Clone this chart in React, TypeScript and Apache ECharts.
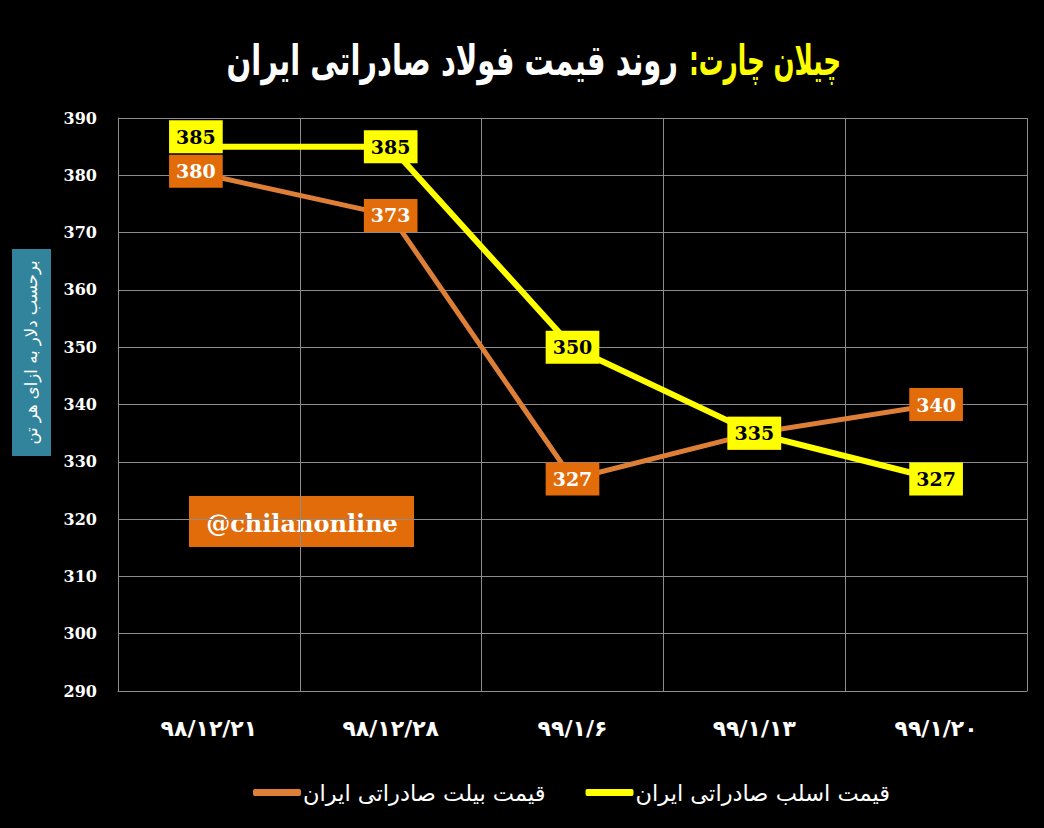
import React, { useEffect, useRef } from "react";
import * as echarts from "echarts";

const categories = ["۹۸/۱۲/۲۱", "۹۸/۱۲/۲۸", "۹۹/۱/۶", "۹۹/۱/۱۳", "۹۹/۱/۲۰"];
const billetValues = [380, 373, 327, 335, 340];
const slabValues = [385, 385, 350, 335, 327];
const billetName = "قیمت بیلت صادراتی ایران";
const slabName = "قیمت اسلب صادراتی ایران";
const titleMain = "روند قیمت فولاد صادراتی ایران";
const titleBrand = ":چیلان چارت";
const yAxisTitle = "برحسب دلار به ازای هر تن";
const watermark = "@chilanonline";
const yMin = 290;
const yMax = 390;
const yStep = 10;

const SERIF = "DejaVu Serif";
const PERSIAN = "DejaVu Sans";

export default function App() {
  const ref = useRef<HTMLDivElement>(null);
  useEffect(() => {
    if (!ref.current) return;
    const chart = echarts.init(ref.current, null, { renderer: "svg" });

    const mkData = (vals: number[], firstOffset: number[]) =>
      vals.map((v, i) =>
        i === 0 ? { value: v, label: { offset: firstOffset } } : { value: v }
      );

    const labelBase = {
      show: true,
      position: "inside",
      fontFamily: SERIF,
      fontWeight: "bold",
      fontSize: 19,
      lineHeight: 22,
      padding: [6, 7, 5, 7],
    };

    chart.setOption({
      animation: false,
      backgroundColor: "#000000",
      grid: { left: 118, right: 17, top: 118, bottom: 137, containLabel: false },
      legend: {
        left: 248,
        top: 776,
        itemWidth: 48,
        itemHeight: 7,
        itemGap: 40,
        icon: "roundRect",
        textStyle: { color: "#ffffff", fontFamily: PERSIAN, fontSize: 22.5, padding: [0, 0, 0, -3] },
        data: [billetName, slabName],
      },
      xAxis: {
        type: "category",
        data: categories,
        boundaryGap: true,
        axisLine: { show: true, lineStyle: { color: "#8c8c8c", width: 1 } },
        axisTick: { show: false },
        axisLabel: {
          color: "#ffffff",
          fontFamily: PERSIAN,
          fontWeight: "bold",
          fontSize: 22,
          margin: 26,
        },
        splitLine: { show: true, lineStyle: { color: "#8c8c8c", width: 1 } },
      },
      yAxis: {
        type: "value",
        min: yMin,
        max: yMax,
        interval: yStep,
        axisLine: { show: true, lineStyle: { color: "#8c8c8c", width: 1 } },
        axisTick: { show: false },
        axisLabel: {
          color: "#ffffff",
          fontFamily: SERIF,
          fontWeight: "bold",
          fontSize: 16,
          margin: 21,
        },
        splitLine: { show: true, lineStyle: { color: "#8c8c8c", width: 1 } },
      },
      series: [
        {
          name: billetName,
          type: "line",
          data: mkData(billetValues, [-13, -4]),
          symbol: "circle",
          symbolSize: 2,
          color: "#DE7F37",
          lineStyle: { color: "#DE7F37", width: 5 },
          itemStyle: { color: "#DE7F37" },
          label: { ...labelBase, color: "#ffffff", backgroundColor: "#E36C0A" },
          z: 2,
        },
        {
          name: slabName,
          type: "line",
          data: mkData(slabValues, [-13, -10]),
          symbol: "circle",
          symbolSize: 2,
          color: "#FFFF00",
          lineStyle: { color: "#FFFF00", width: 6 },
          itemStyle: { color: "#FFFF00" },
          label: { ...labelBase, color: "#000000", backgroundColor: "#FFFF00" },
          z: 3,
        },
      ],
      graphic: [
        {
          type: "text",
          x: 678,
          y: 60,
          scaleY: 1.45,
          style: {
            text: titleMain,
            fill: "#ffffff",
            font: `bold 29px "${PERSIAN}"`,
            align: "right",
            verticalAlign: "middle",
          },
        },
        {
          type: "text",
          x: 689,
          y: 60,
          scaleY: 1.45,
          scaleX: 0.85,
          style: {
            text: titleBrand,
            fill: "#FFFF00",
            font: `bold 29px "${PERSIAN}"`,
            align: "left",
            verticalAlign: "middle",
          },
        },
        {
          type: "rect",
          left: 12,
          top: 249,
          shape: { width: 39, height: 207 },
          style: { fill: "#31849B" },
        },
        {
          type: "text",
          x: 31.5,
          y: 352.5,
          rotation: Math.PI / 2,
          style: {
            text: yAxisTitle,
            fill: "#ffffff",
            font: `16.5px "${PERSIAN}"`,
            align: "center",
            verticalAlign: "middle",
          },
        },
        {
          type: "rect",
          left: 189,
          top: 496,
          shape: { width: 225, height: 51 },
          style: { fill: "#E36C0A" },
        },
        {
          type: "text",
          x: 302,
          y: 523,
          style: {
            text: watermark,
            fill: "#ffffff",
            font: `bold 24px "${SERIF}"`,
            align: "center",
            verticalAlign: "middle",
          },
        },
      ],
    });
    return () => chart.dispose();
  }, []);
  return (
    <div
      ref={ref}
      style={{ position: "fixed", left: 0, top: 0, width: 1044, height: 828, background: "#000" }}
    />
  );
}
